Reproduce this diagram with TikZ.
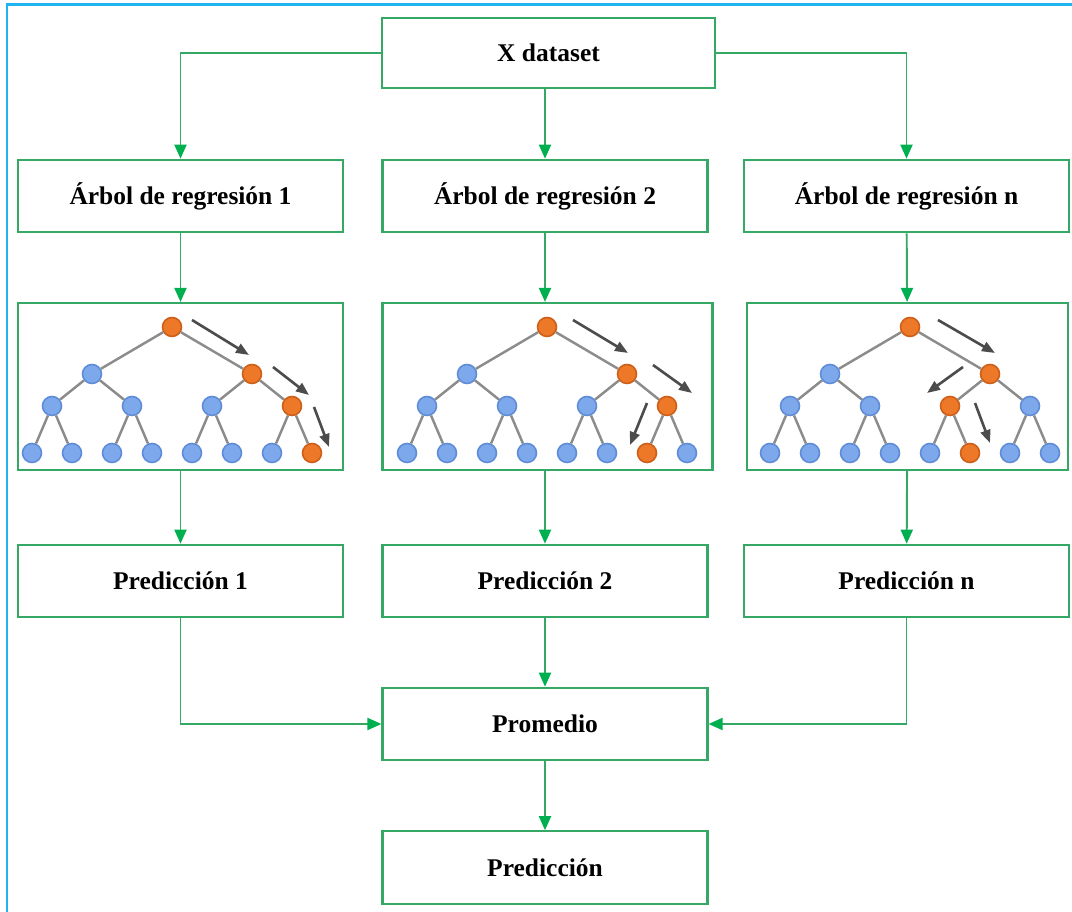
\documentclass[tikz,border=0pt]{standalone}
\usepackage{fontspec}
\setmainfont{Liberation Serif}
\usetikzlibrary{arrows.meta,calc}

\definecolor{boxgreen}{RGB}{52,168,100}
\definecolor{tipgreen}{RGB}{0,176,80}
\definecolor{framecyan}{RGB}{30,180,240}
\definecolor{leafblue}{RGB}{125,168,235}
\definecolor{leafedge}{RGB}{95,140,215}
\definecolor{hitorange}{RGB}{236,120,40}
\definecolor{hitedge}{RGB}{205,95,25}

\begin{document}
\begin{tikzpicture}[
	arr/.style={-{Triangle[length=0.28cm,width=0.24cm,color=tipgreen]},boxgreen,line width=1.1pt},
	box/.style={rectangle,draw=boxgreen,line width=1.2pt,minimum width=6.5cm,minimum height=1.45cm},
	imgbox/.style={box,minimum height=3.34cm},
	leaf/.style={circle,draw=leafedge,fill=leafblue,line width=0.9pt,minimum size=0.38cm,inner sep=0pt},
	hit/.style={leaf,draw=hitedge,fill=hitorange},
	branch/.style={black!45,line width=1.4pt},
	walk/.style={-{Triangle[length=0.26cm,width=0.2cm]},black!70,line width=1.5pt},
	font=\fontsize{14.5}{17}\selectfont\bfseries]

    \useasboundingbox (0cm,0cm) rectangle (21.44cm,18.24cm);
    \draw[framecyan, line width=1.7pt] (0.14cm,-0.5cm) -- (0.14cm,18.14cm) -- (22cm,18.14cm);

    \node (X_DATA) at (10.97cm,17.18cm) [box,minimum width=6.66cm,minimum height=1.4cm] {X dataset};

    \node (TREE1) at (3.61cm,14.32cm) [box] {Árbol de regresión 1};
    \node (TREE2) at (10.9cm,14.32cm) [box] {Árbol de regresión 2};
    \node (TREE3) at (18.13cm,14.32cm) [box] {Árbol de regresión n};

    \node (IMG1) at (3.61cm,10.51cm) [imgbox] {};
    \node (IMG2) at (10.95cm,10.51cm) [imgbox,minimum width=6.6cm] {};
    \node (IMG3) at (18.15cm,10.51cm) [imgbox,minimum width=6.42cm] {};

    \node (PRED1) at (3.61cm,6.62cm) [box] {Predicción 1};
    \node (PRED2) at (10.9cm,6.62cm) [box] {Predicción 2};
    \node (PRED3) at (18.13cm,6.62cm) [box] {Predicción n};

    \node (PROM) at (10.9cm,3.76cm) [box] {Promedio};
    \node (PRED) at (10.9cm,0.89cm) [box] {Predicción};

    \draw [arr] (X_DATA.west) -| (TREE1.north);
    \draw [arr] (X_DATA.south -| TREE2.north) -- (TREE2.north);
    \draw [arr] (X_DATA.east) -| (TREE3.north);

    \draw [arr] (TREE1) -- (IMG1);
    \draw [arr] (TREE2) -- (TREE2.south |- IMG2.north);
    \draw [arr] (TREE3) -- (IMG3);

    \draw [arr] (IMG1) -- (PRED1);
    \draw [arr] (IMG2.south -| PRED2.north) -- (PRED2);
    \draw [arr] (IMG3) -- (PRED3);

    \draw [arr] (PRED1.south) |- (PROM.west);
    \draw [arr] (PRED2) -- (PROM);
    \draw [arr] (PRED3.south) |- (PROM.east);
    \draw [arr] (PROM) -- (PRED);

    % the three trees: root x, orange node on level 2 and level 3
    \foreach \t/\rx/\hc/\hd in {1/3.44/4/8, 2/10.94/4/7, 3/18.20/3/6}{
      \foreach \l/\ly/\n in {0/11.70/1, 1/10.76/2, 2/10.12/4, 3/9.18/8}{
        \foreach \i in {1,...,\n}{
          \pgfmathsetmacro{\nx}{\rx-3.2+6.4/\n*(\i-0.5)}
          \pgfmathtruncatemacro{\hot}{(\l==0)||(\l==1&&\i==2)||(\l==2&&\i==\hc)||(\l==3&&\i==\hd)}
          \def\kind{leaf}\ifnum\hot=1 \def\kind{hit}\fi
          \node (T\t_\l_\i) at (\nx cm,\ly cm) [\kind] {};
          \ifnum\l>0
            \pgfmathtruncatemacro{\p}{\l-1}
            \pgfmathtruncatemacro{\j}{ceil(\i/2)}
            \draw [branch] (T\t_\p_\j) -- (T\t_\l_\i);
          \fi
        }
      }
    }

    \draw [walk] ($(T1_0_1)+(0.4,0.14)$) -- ($(T1_0_1)+(1.54,-0.56)$);
    \draw [walk] ($(T1_0_1)+(2.02,-0.8)$) -- ($(T1_0_1)+(2.74,-1.36)$);
    \draw [walk] ($(T1_0_1)+(2.84,-1.6)$) -- ($(T1_0_1)+(3.14,-2.4)$);

    \draw [walk] ($(T2_0_1)+(0.52,0.14)$) -- ($(T2_0_1)+(1.62,-0.52)$);
    \draw [walk] ($(T2_0_1)+(2.12,-0.76)$) -- ($(T2_0_1)+(2.9,-1.32)$);
    \draw [walk] ($(T2_0_1)+(2.0,-1.52)$) -- ($(T2_0_1)+(1.66,-2.36)$);

    \draw [walk] ($(T3_0_1)+(0.56,0.14)$) -- ($(T3_0_1)+(1.7,-0.52)$);
    \draw [walk] ($(T3_0_1)+(1.06,-0.8)$) -- ($(T3_0_1)+(0.34,-1.32)$);
    \draw [walk] ($(T3_0_1)+(1.3,-1.52)$) -- ($(T3_0_1)+(1.6,-2.32)$);

\end{tikzpicture}
\end{document}
